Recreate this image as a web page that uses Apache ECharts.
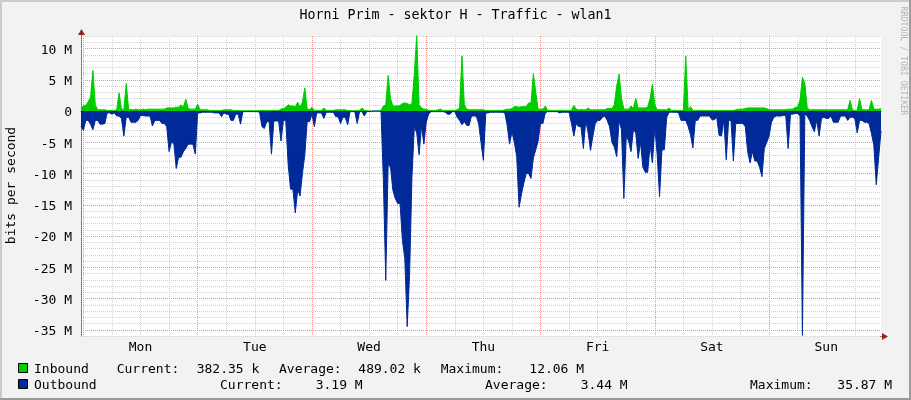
<!DOCTYPE html>
<html><head><meta charset="utf-8">
<script src="https://cdn.jsdelivr.net/npm/echarts@6/dist/echarts.min.js"></script>
<style>html,body{margin:0;padding:0;background:#f2f2f2}#c{width:911px;height:400px}</style>
</head><body><div id="c"></div>
<script>
// ---- data ----
const chartTitle = 'Horni Prim - sektor H - Traffic - wlan1';
const yAxisName = 'bits per second';
const dayNames = ['Mon', 'Tue', 'Wed', 'Thu', 'Fri', 'Sat', 'Sun'];
const startHour = -0.5;   // first sample (hours from Monday 00:00)
const stepHours = 0.5;    // one sample every 30 minutes

// Inbound traffic, Mbit/s (one line per day, 48 samples each, first value = Sun 23:30)
const inbound = [0.5,
  0.8,0.9,1.5,2.2,6.5,1.0,0.2,0.2,0.2,0.2, 0.1,0.1,0.1,0.1,0.2,2.9,0.3,0.2,4.4,0.3, 0.2,0.2,0.3,0.2,0.2,0.3,0.2,0.3,0.3,0.3, 0.3,0.3,0.3,0.3,0.3,0.5,0.5,0.5,0.5,0.6, 0.6,1.0,0.6,1.9,0.4,0.3,0.3,0.3,
  1.1,0.2,0.2,0.2,0.2,0.1,0.1,0.1,0.1,0.1, 0.1,0.2,0.2,0.2,0.2,0.1,0.1,0.1,0.05,0.05, 0.05,0.05,0.05,0.05,0.05,0.05,0.1,0.1,0.1,0.1, 0.1,0.1,0.1,0.1,0.1,0.3,0.4,0.6,1.0,0.8, 0.8,0.7,1.4,0.6,1.4,3.7,0.3,0.2,
  0.6,0.1,0.1,0.1,0.1,0.5,0.1,0.1,0.1,0.1, 0.2,0.2,0.2,0.2,0.2,0.1,0.05,0.05,0.05,0.05, 0.1,0.5,0.1,0.05,0,0,0,0,0,0.1, 0.8,1.0,5.7,2.0,0.8,0.8,0.8,0.9,1.2,1.3, 1.2,1.0,1.2,6.0,12.1,1.0,0.5,0.3,
  0.3,0.1,0.1,0.1,0.1,0.2,0.3,0.1,0.1,0.1, 0.1,0.1,0.1,0.2,0.5,8.8,1.0,0.3,0.2,0.2, 0.2,0.2,0.2,0.2,0.2,0.1,0.1,0.1,0.1,0.1, 0.1,0.1,0.1,0.2,0.3,0.3,0.4,0.7,0.7,0.6, 0.7,0.7,0.7,1.3,1.3,6.0,3.0,0.3,
  0.3,0.3,0.8,0.1,0.1,0.1,0.1,0.1,0.1,0.1, 0.1,0.1,0.1,0.1,0.9,0.3,0.2,0.2,0.2,0.2, 0.5,0.2,0.2,0.2,0.2,0.2,0.2,0.2,0.4,0.4, 0.4,1.0,4.0,5.9,2.0,0.3,0.3,0.3,0.8,0.4, 2.0,0.5,0.5,0.5,0.5,0.6,2.0,4.3,
  1.0,0.2,0.2,0.2,0.2,0.2,0.5,0.1,0.1,0.1, 0.1,0.1,0.1,8.8,0.2,0.7,0.1,0.1,0.1,0.1, 0.1,0.1,0.1,0.1,0.1,0.1,0.1,0.1,0.1,0.1, 0.1,0.1,0.1,0.1,0.2,0.3,0.3,0.3,0.4,0.5, 0.5,0.5,0.5,0.5,0.5,0.5,0.5,0.4,
  0.2,0.2,0.2,0.2,0.2,0.2,0.2,0.2,0.3,0.3, 0.3,0.6,0.6,1.8,5.4,4.5,0.5,0.2,0.2,0.2, 0.2,0.2,0.2,0.2,0.2,0.2,0.2,0.2,0.2,0.2, 0.2,0.2,0.2,0.2,1.7,0.2,0.1,0.1,2.0,0.2, 0.2,0.2,0.2,1.7,0.3,0.3,0.3,0.38
];

// Outbound traffic, Mbit/s (drawn negative)
const outbound = [-2.5,
  -3.1,-1.5,-1.5,-2.1,-3.0,-1.5,-1.5,-2.1,-2.1,-2.0, -0.3,-0.3,-0.5,-0.3,-0.8,-0.8,-1.2,-4.0,-1.0,-1.0, -1.8,-1.8,-1.8,-1.5,-0.7,-0.7,-0.8,-0.8,-0.8,-2.4, -1.5,-1.5,-1.5,-2.0,-2.0,-2.5,-6.5,-5.0,-5.2,-9.2, -7.4,-7.4,-6.5,-6.0,-5.3,-5.3,-5.3,-6.9,
  -0.3,-0.3,-0.2,-0.2,-0.2,-0.2,-0.2,-0.3,-0.3,-0.3, -0.9,-0.3,-0.5,-0.5,-1.5,-1.5,-0.5,-0.5,-2.1,-0.1, -0.1,-0.1,-0.1,-0.1,-0.1,-0.1,-0.2,-2.5,-2.8,-1.7, -1.7,-6.9,-1.6,-1.6,-1.6,-4.8,-1.5,-1.5,-8.5,-12.5, -12.5,-16.3,-12.6,-13.6,-10.0,-7.0,-1.7,-1.7,
  -0.5,-2.5,-0.3,-0.3,-0.3,-1.2,-0.2,-0.2,-0.2,-0.2, -0.9,-0.9,-2.0,-1.0,-1.0,-2.2,-0.1,-0.1,-0.1,-2.0, -0.1,-0.1,-0.8,-0.1,-0.05,-0.05,0,0,0,-0.05, -11.1,-27.1,-8.5,-9.0,-12.7,-14.0,-14.8,-14.8,-20.7,-23.6, -34.5,-26.3,-10.6,-2.5,-3.5,-7.0,-2.4,-5.3,
  -1.8,-0.5,-0.1,-0.1,-0.1,-0.1,-0.1,-0.1,-0.2,-0.5, -0.5,-0.1,-0.1,-1.0,-1.5,-2.2,-1.7,-2.3,-2.3,-0.8, -0.8,-0.8,-2.0,-5.0,-7.9,-0.3,-0.3,-0.2,-0.2,-0.2, -0.2,-0.2,-0.2,-0.3,-2.3,-5.3,-3.3,-5.0,-7.3,-15.4, -13.3,-11.5,-10.0,-10.0,-10.8,-7.5,-6.2,-4.8,
  -2.0,-2.0,-0.3,-0.1,-0.1,-0.1,-0.1,-0.1,-0.3,-0.2, -0.2,-0.2,-0.2,-2.0,-4.0,-2.0,-2.5,-2.5,-6.0,-1.5, -3.5,-6.3,-4.0,-2.0,-1.5,-1.5,-1.0,-0.8,-1.5,-2.5, -5.0,-5.8,-7.3,-1.5,-3.0,-14.0,-4.0,-4.8,-6.5,-3.0, -3.5,-7.6,-5.0,-9.0,-9.8,-9.8,-5.5,-8.3,
  -2.5,-7.0,-13.7,-6.2,-6.2,-1.0,-0.2,-0.2,-0.2,-0.2, -0.3,-1.5,-1.5,-1.5,-2.5,-3.8,-5.9,-1.5,-1.5,-0.8, -0.8,-0.8,-0.8,-0.8,-1.4,-1.4,-1.0,-3.9,-4.0,-1.5, -7.8,-1.5,-1.5,-8.0,-2.0,-2.0,-2.0,-2.0,-2.5,-6.5, -8.3,-6.5,-8.0,-8.0,-9.0,-10.5,-6.0,-5.0,
  -4.0,-1.8,-1.0,-0.8,-0.8,-0.8,-0.7,-0.7,-6.0,-0.5, -0.5,-0.4,-0.4,-0.8,-35.9,-0.5,-0.8,-1.5,-2.5,-3.3, -1.5,-4.0,-1.2,-1.0,-1.2,-1.2,-0.8,-1.8,-1.8,-1.8, -0.8,-0.8,-0.8,-1.5,-1.0,-1.0,-1.2,-3.5,-1.5,-1.5, -1.8,-1.8,-2.0,-3.6,-5.5,-11.8,-7.5,-3.2
];

const seriesNames = ['Inbound', 'Outbound'];
const statLabels = ['Current:', 'Average:', 'Maximum:'];
const inboundStats = ['382.35 k', '489.02 k', '12.06 M'];
const outboundStats = ['3.19 M', '3.44 M', '35.87 M'];
const rrdCredit = 'RRDTOOL / TOBI OETIKER';

// ---- layout / style ----
const GREEN = '#00cc00', BLUE = '#002a97';
const GRID_MINOR = '#d2d2d2', GRID_MAJOR = '#ee9090';
const AXIS = '#7f7f7f', ARROW = '#9b2020';
const MONO = '"DejaVu Sans Mono", monospace';

const Y_MIN = -36, Y_MAX = 12;                    // axis range, M
const PLOT = { left: 81, top: 36, width: 800, height: 300 };
const pxPerM = PLOT.height / (Y_MAX - Y_MIN);
const pxPerH = PLOT.width / ((inbound.length - 1) * stepHours);
const AXIS_Y = PLOT.top + PLOT.height + 0.5;

const hours = inbound.map((_, i) => String(startHour + i * stepHours));
const hourAt = i => startHour + i * stepHours;

function txt(text, x, y, opts) {
  return Object.assign({
    type: 'text', x: x, y: y, silent: true,
    style: Object.assign({ text: text, font: '13px ' + MONO, fill: '#000',
      textAlign: 'left', textVerticalAlign: 'middle', align: 'left', verticalAlign: 'middle' }, (opts && opts.style) || {})
  }, (opts && opts.el) || {});
}

const row1X = [116.7, 196.7, 279, 358.3, 440.7, 529.3];
const row2X = [220, 315.7, 485, 580.7, 750, 837.3];
const graphics = [
  { type: 'rect', shape: { x: 0, y: 0, width: 911, height: 2 }, style: { fill: '#cbcbcb' }, silent: true },
  { type: 'rect', shape: { x: 0, y: 0, width: 2, height: 400 }, style: { fill: '#cbcbcb' }, silent: true },
  { type: 'rect', shape: { x: 0, y: 398, width: 911, height: 2 }, style: { fill: '#9b9b9b' }, silent: true },
  { type: 'rect', shape: { x: 909, y: 0, width: 2, height: 400 }, style: { fill: '#9b9b9b' }, silent: true },
  txt(chartTitle, 455.5, 15.5, { style: { textAlign: 'center', align: 'center', font: '13.3px ' + MONO } }),
  txt(yAxisName, 11.5, 185.5, { style: { textAlign: 'center', align: 'center' }, el: { rotation: Math.PI / 2 } }),
  txt(rrdCredit, 903.5, 61, { style: { textAlign: 'center', align: 'center', font: '8.2px ' + MONO, fill: '#b4b4b4' }, el: { rotation: -Math.PI / 2 } }),
  { type: 'line', shape: { x1: 81.5, y1: 31, x2: 81.5, y2: 36 }, style: { stroke: AXIS, lineWidth: 1 }, silent: true },
  { type: 'polygon', shape: { points: [[78, 35], [85, 35], [81.5, 29]] }, style: { fill: ARROW }, silent: true },
  { type: 'line', shape: { x1: 880, y1: AXIS_Y, x2: 884, y2: AXIS_Y }, style: { stroke: AXIS, lineWidth: 1 }, silent: true },
  { type: 'polygon', shape: { points: [[882, AXIS_Y - 3.5], [882, AXIS_Y + 3.5], [888, AXIS_Y]] }, style: { fill: ARROW }, silent: true },
  { type: 'rect', shape: { x: 18.5, y: 363.5, width: 9, height: 9 }, style: { fill: GREEN, stroke: '#000', lineWidth: 1 }, silent: true },
  { type: 'rect', shape: { x: 18.5, y: 379.5, width: 9, height: 9 }, style: { fill: BLUE, stroke: '#000', lineWidth: 1 }, silent: true },
  txt(seriesNames[0], 34, 369.2),
  txt(seriesNames[1], 34, 385.2)
];
statLabels.forEach((lab, k) => {
  graphics.push(txt(lab, row1X[2 * k], 369.2));
  graphics.push(txt(inboundStats[k], row1X[2 * k + 1], 369.2));
  graphics.push(txt(lab, row2X[2 * k], 385.2));
  graphics.push(txt(outboundStats[k], row2X[2 * k + 1], 385.2));
});

const hidden = { show: false };
const dotted = (c) => ({ show: true, lineStyle: { color: c, type: [1, 1], width: 1 } });

const chart = echarts.init(document.getElementById('c'), null, { renderer: 'canvas' });
chart.setOption({
  animation: false,
  backgroundColor: '#f2f2f2',
  grid: [
    Object.assign({ show: true, backgroundColor: '#ffffff', borderWidth: 0 }, PLOT),
    // overlay for major horizontal lines (every 5 M, -35..10)
    { left: PLOT.left, width: PLOT.width, top: PLOT.top + (Y_MAX - 10) * pxPerM, height: 45 * pxPerM, show: false },
    // overlay for day boundary lines (0..144 h)
    { left: PLOT.left + (0 - startHour) * pxPerH, width: 144 * pxPerH, top: PLOT.top, height: PLOT.height, show: false }
  ],
  xAxis: [
    {
      type: 'category', data: hours, boundaryGap: false, gridIndex: 0, z: 0,
      axisLine: { show: true, lineStyle: { color: AXIS, width: 1 } },
      axisTick: { show: false },
      axisLabel: {
        interval: (i) => hourAt(i) >= 0 && hourAt(i) % 24 === 12,
        formatter: (v) => dayNames[Math.floor(Number(v) / 24)],
        color: '#000', fontFamily: MONO, fontSize: 13, margin: 5
      },
      splitLine: Object.assign(dotted(GRID_MINOR), { interval: (i) => hourAt(i) % 6 === 0 && hourAt(i) % 24 !== 0 })
    },
    { type: 'value', gridIndex: 1, min: 0, max: 1, show: false },
    { type: 'value', gridIndex: 2, min: 0, max: 144, interval: 24, z: 1,
      axisLine: hidden, axisTick: hidden, axisLabel: hidden, splitLine: dotted(GRID_MAJOR) }
  ],
  yAxis: [
    {
      type: 'value', min: Y_MIN, max: Y_MAX, interval: 1, gridIndex: 0, z: 0,
      axisLine: { show: true, lineStyle: { color: AXIS, width: 1 } },
      axisTick: { show: false },
      axisLabel: {
        formatter: (v) => (v % 5 === 0 ? '{v|' + (v === 0 ? '0' : v + ' M') + '}' : ''),
        rich: { v: { color: '#000', fontFamily: MONO, fontSize: 13, padding: [4, 0, 0, 0] } },
        margin: 9
      },
      splitLine: dotted(GRID_MINOR)
    },
    { type: 'value', gridIndex: 1, min: -35, max: 10, interval: 5, z: 1,
      axisLine: hidden, axisTick: hidden, axisLabel: hidden, splitLine: dotted(GRID_MAJOR) },
    { type: 'value', gridIndex: 2, min: 0, max: 1, show: false }
  ],
  series: [
    { name: seriesNames[0], type: 'line', data: inbound, symbol: 'none', xAxisIndex: 0, yAxisIndex: 0,
      lineStyle: { color: GREEN, width: 1 }, itemStyle: { color: GREEN },
      areaStyle: { color: GREEN, opacity: 1 }, z: 2 },
    { name: seriesNames[1], type: 'line', data: outbound, symbol: 'none', xAxisIndex: 0, yAxisIndex: 0,
      lineStyle: { color: BLUE, width: 1 }, itemStyle: { color: BLUE },
      areaStyle: { color: BLUE, opacity: 1 }, z: 3 }
  ],
  graphic: graphics
});
</script>
</body></html>
